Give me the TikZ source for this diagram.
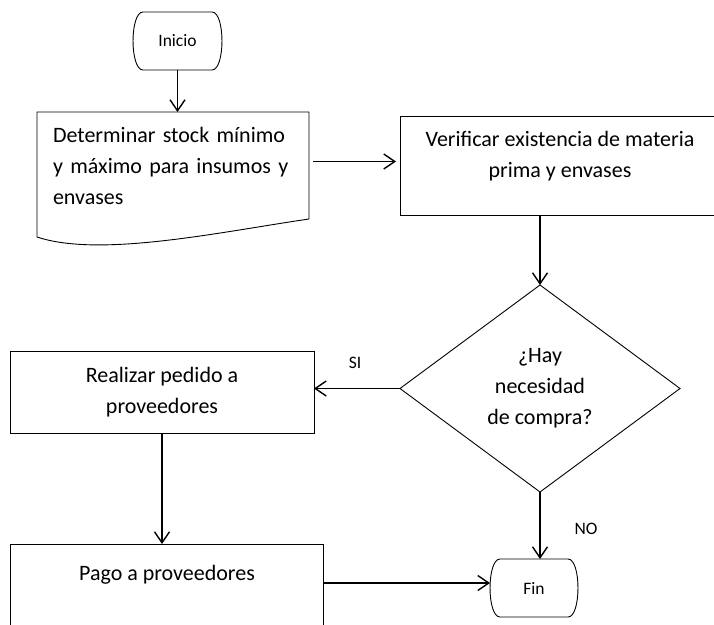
\documentclass[tikz,border=0pt]{standalone}
\usepackage{fontspec}
\setmainfont{Carlito}
\usetikzlibrary{arrows.meta,calc}

% Terminal (start/end) outline: straight top and bottom, bulging sides
\newcommand\drawterminal[1]{%
  \draw[shape line] ([xshift=10pt]#1.north west) -- ([xshift=-10pt]#1.north east)
    .. controls ([xshift=3.3pt]#1.north east) and ([xshift=3.3pt]#1.south east) ..
    ([xshift=-10pt]#1.south east) -- ([xshift=10pt]#1.south west)
    .. controls ([xshift=-3.3pt]#1.south west) and ([xshift=-3.3pt]#1.north west) ..
    ([xshift=10pt]#1.north west) -- cycle;}

\begin{document}
\begin{tikzpicture}[x=1pt,y=-1pt,
  shape line/.style={draw=black, line width=0.9pt},
  flow/.style={draw=black, line width=1.6pt,
    -{Straight Barb[length=11pt,width=15pt,line width=1.4pt]}},
  frame/.style={rectangle, inner sep=0pt, outer sep=0pt},
  boxed/.style={frame, shape line},
  bigtext/.style={font=\fontsize{22}{31}\selectfont, align=center},
  smalltext/.style={font=\fontsize{17.5}{21}\selectfont},
]
\clip (0,0) rectangle (714,624);

% Start
\node[frame, smalltext, minimum width=89pt, minimum height=58pt] (inicio) at (177.5,41) {Inicio};
\drawterminal{inicio}

% Document: define stock levels
\node[frame, minimum width=272pt, minimum height=107pt, text width=240pt,
      inner xsep=16pt, align=left, font=\fontsize{22}{31}\selectfont]
  (det) at (173,165.5) {Determinar stock mínimo\\y máximo para insumos y\\envases};
\draw[shape line] (det.south east) -- (det.north east) -- (det.north west)
  -- ($(det.south west)+(0,18)$)
  .. controls ($(det.south west)+(63,39)$) and ($(det.south west)+(183,13)$) .. (det.south east);

% Check stock
\node[boxed, minimum width=322pt, minimum height=99pt] (ver) at (561,165.5) {};
\node[bigtext] (verT) at (560,156) {Verificar existencia de materia\\prima y envases};

% Decision
\node[frame, bigtext, minimum width=280pt, minimum height=207pt] (dia) at (540,388.5)
  {¿Hay\\necesidad\\de compra?};
\draw[shape line] (dia.north) -- (dia.east) -- (dia.south) -- (dia.west) -- cycle;

% Order
\node[boxed, bigtext, minimum width=304pt, minimum height=82pt] (pedido) at (162,392)
  {Realizar pedido a\\proveedores};

% Payment
\node[boxed, minimum width=313pt, minimum height=96pt] (pago) at (166.5,592) {};
\node[bigtext] (pagoT) at (167,575) {Pago a proveedores};

% End
\node[frame, smalltext, minimum width=88pt, minimum height=58pt] (fin) at (534,588) {Fin};
\drawterminal{fin}

% Connectors
\draw[flow] (inicio.south) -- (inicio.south |- det.north);
\draw[flow, shorten <=4pt, shorten >=4pt] ([yshift=4pt]det.east) -- ([yshift=4pt]det.east -| ver.west);
\draw[flow] (dia.north |- ver.south) -- (dia.north);
\draw[flow] (dia.west) -- (dia.west -| pedido.east);
\draw[flow] (pedido.south) -- (pedido.south |- pago.north);
\draw[flow] (dia.south) -- (dia.south |- fin.north);
\draw[flow] ([yshift=5pt]fin.west -| pago.east) -- ([yshift=5pt]fin.west);

% Branch labels
\node[smalltext] (si) at (355,363) {SI};
\node[smalltext] (no) at (586,529) {NO};
\end{tikzpicture}
\end{document}
